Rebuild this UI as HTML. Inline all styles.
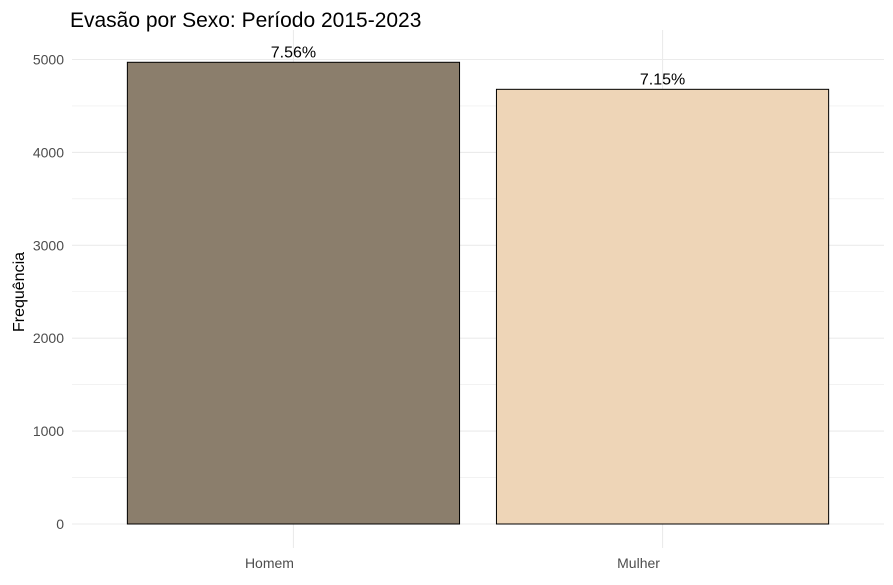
<!DOCTYPE html>
<html><head><meta charset="utf-8"><style>
body{margin:0;background:#fff;}
svg text{font-family:"Liberation Sans",sans-serif;}
</style></head><body>
<svg id="c" width="893" height="580" xmlns="http://www.w3.org/2000/svg">
<text x="70" y="27" font-size="21" fill="#000">Evasão por Sexo: Período 2015-2023</text>
<text transform="translate(24,292) rotate(-90)" text-anchor="middle" font-size="16" fill="#000">Frequência</text>
<g id="grid"></g><g id="bars"></g><g id="labels"></g>
</svg>
<script>
const categories=["Homem","Mulher"];
const values=[4970,4679];
const pctLabels=["7.56%","7.15%"];
const yTicks=[0,1000,2000,3000,4000,5000];
const colors=["#8b7e6c","#eed5b7"];
const NS="http://www.w3.org/2000/svg";
const svg=document.getElementById('c');
const x0=72,x1=884,y0=524,y1=59.5;
const band=(x1-x0)/2.2;
const xc=i=>x0+band*(0.6+i);
const y=v=>y0-(v/5000)*(y0-y1);
function mk(t,a,p){const e=document.createElementNS(NS,t);for(const k in a)e.setAttribute(k,a[k]);p.appendChild(e);return e;}
const g=document.getElementById('grid');
for(let k=0;k<=10;k++){const v=k*500;
const l=mk('line',{x1:x0,x2:x1,y1:y(v),y2:y(v),stroke:'#ebebeb','stroke-width':k%2?0.6:1.1},g);

}
categories.forEach((c,i)=>{const l=mk('line',{x1:xc(i),x2:xc(i),y1:30,y2:y0+24,stroke:'#ebebeb','stroke-width':1.1},g);

});
yTicks.forEach(v=>{const t=mk('text',{x:64,y:y(v)+5,'text-anchor':'end','font-size':14,fill:'#4d4d4d'},g);t.textContent=v;

});
const b=document.getElementById('bars'),lb=document.getElementById('labels');
categories.forEach((c,i)=>{const w=band*0.9;
const r=mk('rect',{x:xc(i)-w/2,y:y(values[i]),width:w,height:y0-y(values[i]),fill:colors[i],stroke:'#000','stroke-width':1},b);


const t=mk('text',{x:xc(i),y:y(values[i])-5,'text-anchor':'middle','font-size':16,fill:'#000'},lb);t.textContent=pctLabels[i];


const xt=mk('text',{x:xc(i)-24,y:568,'text-anchor':'middle','font-size':14,fill:'#4d4d4d'},lb);xt.textContent=c;

});
</script>
</body></html>
